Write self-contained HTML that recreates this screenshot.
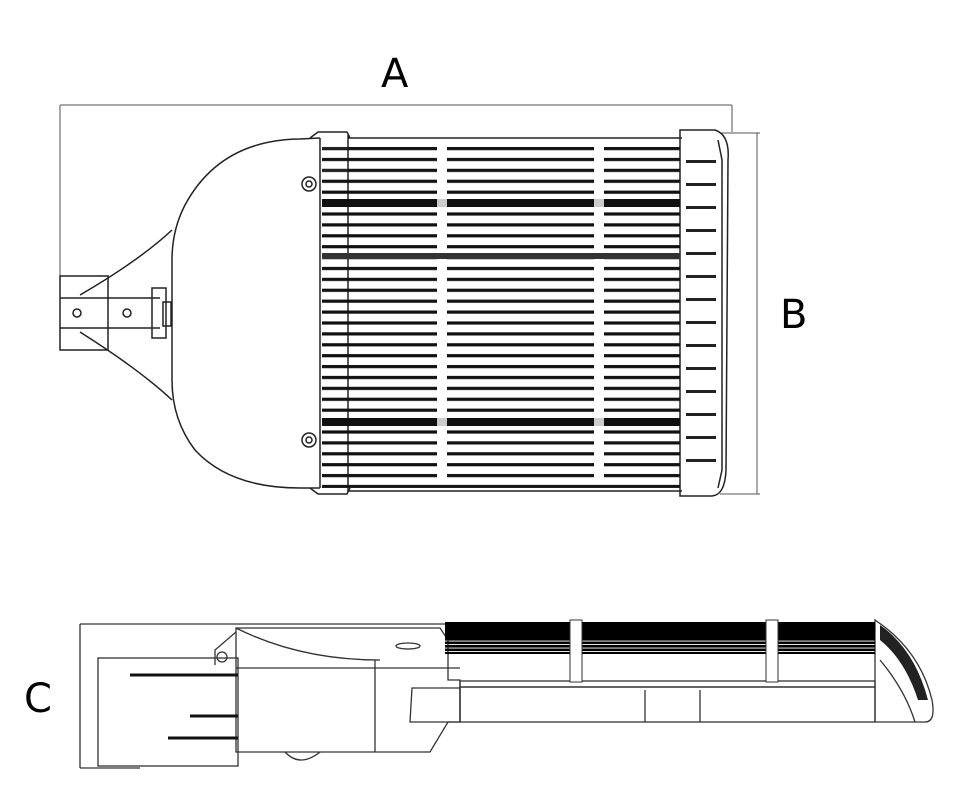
<!DOCTYPE html>
<html><head><meta charset="utf-8"><style>
html,body{margin:0;padding:0;background:#fff;}
svg{display:block;}
text{font-family:"DejaVu Sans","Liberation Sans",sans-serif;fill:#000;}
</style></head><body>
<svg width="978" height="810" viewBox="0 0 978 810" xmlns="http://www.w3.org/2000/svg">
<defs>
<pattern id="fins" x="0" y="143" width="10" height="10.9" patternUnits="userSpaceOnUse">
<rect x="0" y="4" width="10" height="3.2" fill="#111"/>
</pattern>
<pattern id="sfins" x="0" y="624" width="10" height="3.5" patternUnits="userSpaceOnUse">
<rect x="0" y="0" width="10" height="2.6" fill="#000"/>
</pattern>
</defs>
<text x="381" y="87" font-size="40">A</text>
<text x="780" y="328" font-size="40">B</text>
<text x="24" y="712" font-size="40">C</text>

<g fill="none" stroke="#555" stroke-width="1">
<line x1="60" y1="105" x2="732" y2="105"/>
<line x1="60" y1="105" x2="60" y2="276"/>
<line x1="732" y1="105" x2="732" y2="132"/>
<line x1="757" y1="133" x2="757" y2="494"/>
<line x1="720" y1="133" x2="760" y2="133"/>
<line x1="720" y1="494" x2="760" y2="494"/>
</g>

<g fill="none" stroke="#222" stroke-width="1.5">
<path d="M320 138 L300 139 Q220 140 185 205 Q172 230 172 260 L172 380 Q172 420 195 450 Q230 488 300 488 L320 488"/>
<path d="M172 230 Q140 260 80 295 M172 400 Q140 370 80 332"/>
<rect x="60" y="276" width="48" height="74"/>
<line x1="60" y1="298" x2="160" y2="298"/>
<line x1="60" y1="328" x2="160" y2="328"/>
<rect x="152" y="288" width="14" height="50"/>
<rect x="163" y="302" width="8" height="24"/>
<circle cx="77" cy="313" r="4"/>
<circle cx="127" cy="313" r="4"/>
<circle cx="309" cy="184" r="7"/><circle cx="309" cy="184" r="3"/>
<circle cx="309" cy="440" r="7"/><circle cx="309" cy="440" r="3"/>
<path d="M310 138 L318 132 L347 132 L350 138 M310 488 L318 494 L347 494 L350 488"/>
<line x1="348" y1="138" x2="682" y2="138"/>
<line x1="348" y1="491" x2="682" y2="491"/>
<line x1="348" y1="135" x2="348" y2="492"/>
<line x1="320" y1="138" x2="320" y2="488"/>
<path d="M680 130 L715 130 Q730 135 728 160 L726 470 Q725 495 712 496 L680 496 Z"/>
<path d="M718 140 L722 160 L722 470 L718 488"/>
</g>
<rect x="322" y="143" width="358" height="345" fill="url(#fins)"/>
<rect x="437" y="145" width="10" height="334" fill="#fff"/>
<rect x="594" y="145" width="10" height="334" fill="#fff"/>
<rect x="322" y="199" width="358" height="8" fill="#111"/>
<rect x="322" y="253" width="358" height="6" fill="#333"/>
<rect x="322" y="418" width="358" height="8" fill="#111"/>
<rect x="437" y="199" width="10" height="8" fill="#ccc"/>
<rect x="594" y="199" width="10" height="8" fill="#ccc"/>
<rect x="437" y="418" width="10" height="8" fill="#ccc"/>
<rect x="594" y="418" width="10" height="8" fill="#ccc"/>
<g fill="#222">
<rect x="686" y="160" width="30" height="3"/><rect x="686" y="183" width="30" height="3"/>
<rect x="686" y="206" width="30" height="3"/><rect x="686" y="229" width="30" height="3"/>
<rect x="686" y="252" width="30" height="3"/><rect x="686" y="275" width="30" height="3"/>
<rect x="686" y="298" width="30" height="3"/><rect x="686" y="321" width="30" height="3"/>
<rect x="686" y="344" width="30" height="3"/><rect x="686" y="367" width="30" height="3"/>
<rect x="686" y="390" width="30" height="3"/><rect x="686" y="413" width="30" height="3"/>
<rect x="686" y="436" width="30" height="3"/><rect x="686" y="459" width="30" height="3"/>
</g>

<g fill="none" stroke="#333" stroke-width="1.3">
<line x1="80" y1="624" x2="450" y2="624"/>
<line x1="80" y1="624" x2="80" y2="768"/>
<line x1="80" y1="768" x2="140" y2="768"/>
<rect x="98" y="658" width="140" height="108"/>
<path d="M236 628 L440 628 L448 640 L448 680 L460 680 L460 722 L448 722 L430 752 L236 752 Z"/>
<path d="M236 628 Q300 660 380 660"/>
<line x1="236" y1="668" x2="460" y2="668"/>
<line x1="375" y1="660" x2="375" y2="752"/>
<path d="M412 688 L460 688 L460 722 L410 722 Z"/>
<ellipse cx="408" cy="646" rx="12" ry="3"/>
<circle cx="222" cy="657" r="5"/>
<path d="M215 665 L215 650 L236 632"/>
<path d="M285 752 Q300 768 320 752"/>
<rect x="460" y="681" width="415" height="6"/>
<rect x="460" y="687" width="415" height="35"/>
<line x1="645" y1="690" x2="645" y2="722"/>
<line x1="700" y1="690" x2="700" y2="722"/>
<path d="M875 620 Q920 650 932 700 Q936 722 925 722 L875 722 Z"/>
<path d="M880 660 Q905 690 915 722"/>
</g>
<g stroke="#111" stroke-width="3">
<line x1="130" y1="675" x2="238" y2="675"/>
<line x1="190" y1="716" x2="238" y2="716"/>
<line x1="168" y1="738" x2="238" y2="738"/>
</g>
<rect x="445" y="622" width="430" height="32" fill="url(#sfins)"/>
<rect x="445" y="622" width="430" height="18" fill="#000"/>
<rect x="570" y="620" width="12" height="62" fill="#fff" stroke="#333"/>
<rect x="766" y="620" width="12" height="62" fill="#fff" stroke="#333"/>
<path d="M880 625 Q915 650 928 700 L918 700 Q905 660 880 640 Z" fill="#222"/>
<g stroke="#222" stroke-width="2">
<line x1="322" y1="148" x2="348" y2="148"/><line x1="322" y1="170" x2="348" y2="170"/>
</g>
</svg>
</body></html>
